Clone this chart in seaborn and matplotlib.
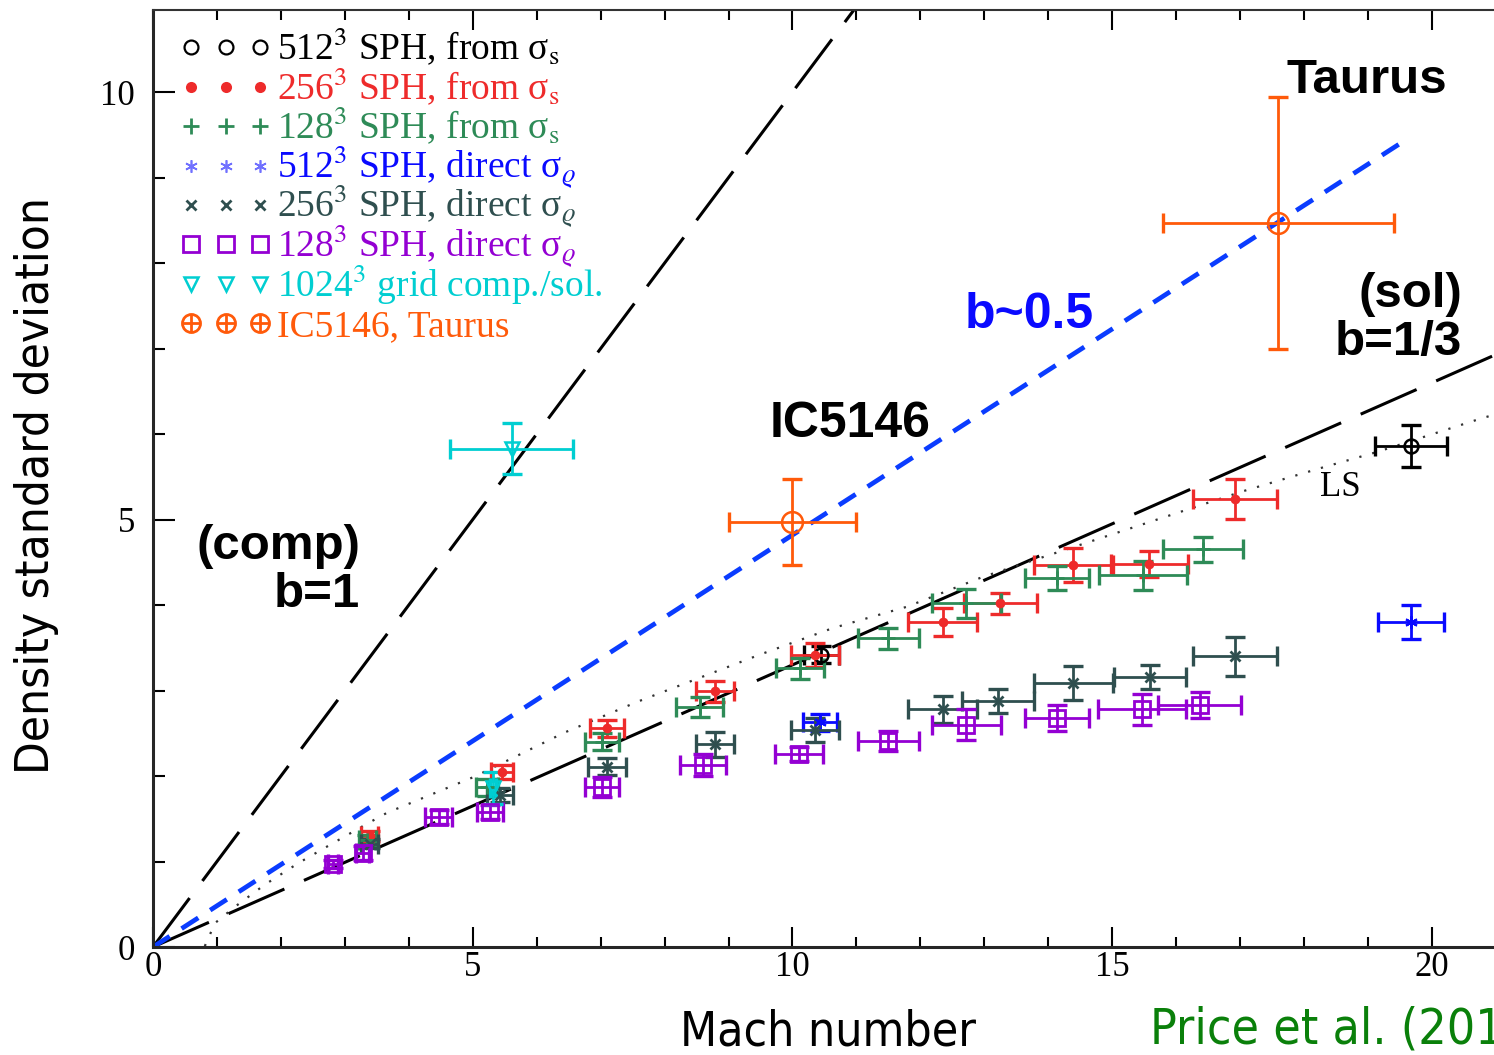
import numpy as np
import pandas as pd
import matplotlib
matplotlib.use("Agg")
import matplotlib.pyplot as plt
import seaborn as sns
from matplotlib.lines import Line2D
from matplotlib.legend_handler import HandlerTuple
from matplotlib.ticker import MultipleLocator
from matplotlib.transforms import Bbox
from matplotlib import font_manager as fm

# ---------------- data ----------------
# 512^3 SPH, from sigma_s
s512_M = [10.45, 19.67]
s512_sig = [3.42, 5.86]
s512_xerr = [0.27, 0.56]
s512_yerr = [0.10, 0.25]

# 256^3 SPH, from sigma_s
s256_M = [3.39, 5.46, 7.10, 8.79, 10.35, 12.35, 13.25, 14.39, 15.58, 16.92]
s256_sig = [1.30, 2.05, 2.56, 2.99, 3.42, 3.80, 4.02, 4.47, 4.48, 5.24]
s256_xerr = [0.13, 0.17, 0.27, 0.30, 0.38, 0.54, 0.57, 0.62, 0.60, 0.66]
s256_yerr = [0.06, 0.08, 0.10, 0.12, 0.14, 0.16, 0.12, 0.20, 0.15, 0.23]

# 128^3 SPH, from sigma_s
s128_M = [3.35, 5.22, 7.02, 8.55, 10.12, 11.50, 12.72, 14.14, 15.48, 16.42]
s128_sig = [1.25, 1.87, 2.40, 2.81, 3.26, 3.61, 4.02, 4.32, 4.35, 4.65]
s128_xerr = [0.13, 0.17, 0.26, 0.37, 0.38, 0.48, 0.54, 0.50, 0.69, 0.63]
s128_yerr = [0.06, 0.10, 0.10, 0.12, 0.12, 0.12, 0.17, 0.14, 0.17, 0.15]

# 512^3 SPH, direct sigma_rho
d512_M = [10.43, 19.67]
d512_sig = [2.63, 3.80]
d512_xerr = [0.26, 0.52]
d512_yerr = [0.10, 0.20]

# 256^3 SPH, direct sigma_rho
d256_M = [3.39, 5.43, 7.10, 8.79, 10.35, 12.35, 13.21, 14.39, 15.59, 16.92]
d256_sig = [1.21, 1.78, 2.11, 2.37, 2.54, 2.78, 2.88, 3.09, 3.16, 3.40]
d256_xerr = [0.13, 0.20, 0.30, 0.30, 0.38, 0.54, 0.56, 0.62, 0.57, 0.66]
d256_yerr = [0.05, 0.08, 0.10, 0.15, 0.14, 0.16, 0.14, 0.20, 0.14, 0.23]

# 128^3 SPH, direct sigma_rho
d128_M = [2.81, 3.28, 4.47, 5.27, 7.02, 8.60, 10.10, 11.50, 12.72, 14.14, 15.46, 16.37]
d128_sig = [0.97, 1.10, 1.52, 1.58, 1.87, 2.13, 2.26, 2.41, 2.60, 2.68, 2.78, 2.83]
d128_xerr = [0.08, 0.10, 0.21, 0.21, 0.26, 0.36, 0.37, 0.48, 0.54, 0.50, 0.69, 0.65]
d128_yerr = [0.05, 0.08, 0.08, 0.08, 0.12, 0.13, 0.08, 0.12, 0.18, 0.15, 0.18, 0.15]

# 1024^3 grid comp./sol.
grid_M = [5.32, 5.61]
grid_sig = [1.86, 5.83]
grid_xerr = [0.05, 0.96]
grid_yerr = [0.19, 0.30]

# IC5146, Taurus
obs_M = [10.0, 17.6]
obs_sig = [4.97, 8.47]
obs_xerr = [1.0, 1.8]
obs_yerr = [0.5, 1.47]

# reference relations (end points / read points)
b1_M = [0.0, 12.0]
b1_sig = [0.0, 12.0]
bhalf_M = [0.0, 19.63]
bhalf_sig = [0.0, 9.46]
bthird_M = [0.0, 21.0]
bthird_sig = [0.0, 6.93]
ls_M = [0.81, 0.97, 1.28, 1.75, 2.27, 2.78, 3.32, 3.66, 5.02, 6.44, 7.58,
        9.49, 10.63, 11.79, 12.98, 15.54, 17.04, 18.25, 19.14, 20.80, 21.0]
ls_sig = [0.01, 0.28, 0.47, 0.73, 0.98, 1.20, 1.43, 1.57, 1.99, 2.51, 2.87,
          3.42, 3.73, 3.98, 4.33, 4.96, 5.33, 5.60, 5.79, 6.19, 6.23]

labels = [r"512$^3$ SPH, from σ$_\mathrm{s}$",
          r"256$^3$ SPH, from σ$_\mathrm{s}$",
          r"128$^3$ SPH, from σ$_\mathrm{s}$",
          r"512$^3$ SPH, direct σ$_\varrho$",
          r"256$^3$ SPH, direct σ$_\varrho$",
          r"128$^3$ SPH, direct σ$_\varrho$",
          r"1024$^3$ grid comp./sol.",
          "IC5146, Taurus"]
colors = ["#000000", "#ee2b2b", "#2e8b57", "#0a0aff", "#2f4f4f", "#9400d3",
          "#00ced1", "#ff5a0a"]

# ---------------- style ----------------
sns.set_theme(style="ticks")
plt.rcParams['font.family'] = ['Liberation Serif', 'DejaVu Serif']
plt.rcParams['mathtext.fontset'] = 'stix'
for k in ["text.color", "axes.labelcolor", "xtick.color", "ytick.color"]:
    plt.rcParams[k] = "black"

# pick a condensed sans for the axis labels if one is installed
narrow_fp = None
cands = []
for f in fm.fontManager.ttflist:
    low = (f.fname + " " + f.name).lower()
    if ("narrow" in low or "condensed" in low) and f.style == "normal" \
            and f.weight in (400, "normal", "regular") and "bold" not in low:
        cands.append(f)
for pref in ["liberation sans narrow", "dejavu", "roboto", "open", ""]:
    hit = [f for f in cands if pref in (f.fname + " " + f.name).lower()]
    if hit:
        narrow_fp = fm.FontProperties(fname=hit[0].fname)
        break
if narrow_fp is None:
    narrow_fp = fm.FontProperties(family=["Liberation Sans", "DejaVu Sans"])

fig = plt.figure(figsize=(14.94, 10.55), dpi=100)
ax = fig.add_axes([153 / 1494, 108 / 1055, 1341 / 1494, 937 / 1055])
ax.set_xlim(0, 20.97)
ax.set_ylim(0, 10.96)

# reference lines via seaborn
sns.lineplot(x=b1_M, y=b1_sig, ax=ax, color="black", linewidth=2.2,
             linestyle=(0, (20, 7)), zorder=1)
sns.lineplot(x=bthird_M, y=bthird_sig, ax=ax, color="black", linewidth=2.2,
             linestyle=(0, (20, 7)), zorder=1)
sns.lineplot(x=bhalf_M, y=bhalf_sig, ax=ax, color="#0a3cff", linewidth=3.4,
             linestyle=(0, (4.2, 3.0)), zorder=1)
sns.lineplot(x=ls_M, y=ls_sig, ax=ax, color="#333333", linewidth=1.6,
             linestyle=(0, (1, 5)), zorder=1)

series = [
    (s512_M, s512_sig, s512_xerr, s512_yerr, dict(marker="o", ms=10, mfc="none", mew=1.8)),
    (s256_M, s256_sig, s256_xerr, s256_yerr, dict(marker="o", ms=7, mew=0)),
    (s128_M, s128_sig, s128_xerr, s128_yerr, dict(marker="+", ms=10, mew=2)),
    (d512_M, d512_sig, d512_xerr, d512_yerr, dict(marker=(6, 2, 0), ms=9, mew=1.5)),
    (d256_M, d256_sig, d256_xerr, d256_yerr, dict(marker="x", ms=7, mew=2)),
    (d128_M, d128_sig, d128_xerr, d128_yerr, dict(marker="s", ms=11, mfc="none", mew=2)),
    (grid_M, grid_sig, grid_xerr, grid_yerr, dict(marker="v", ms=10, mfc="none", mew=1.8)),
    (obs_M, obs_sig, obs_xerr, obs_yerr, dict(marker="o", ms=15, mfc="none", mew=1.8)),
]
for (M, s, xe, ye, mk), c in zip(series, colors):
    ax.errorbar(M, s, xerr=xe, yerr=ye, fmt="none", ecolor=c, elinewidth=2.0,
                capsize=7.5, capthick=2.4, zorder=3)
    ax.plot(M, s, linestyle="none", color=c, mec=c, zorder=4, **mk)

# legend
leg_mk = [
    dict(marker="o", ms=10, mfc="none", mew=1.6),
    dict(marker="o", ms=8, mew=0),
    dict(marker="+", ms=11, mew=2),
    dict(marker=(6, 2, 0), ms=9, mew=1.2),
    dict(marker="x", ms=7, mew=2),
    dict(marker="s", ms=11, mfc="none", mew=2),
    dict(marker="v", ms=10, mfc="none", mew=1.8),
]
leg_col = ["#000000", "#ee2b2b", "#2e8b57", "#7070ff", "#2f4f4f", "#9400d3",
           "#00ced1"]
handles = [Line2D([], [], linestyle="none", color=c, mec=c, **m)
           for m, c in zip(leg_mk, leg_col)]
handles.append((Line2D([], [], linestyle="none", marker="o", ms=13, mfc="none",
                       mec=colors[7], mew=2),
                Line2D([], [], linestyle="none", marker="+", ms=13,
                       color=colors[7], mew=2)))
leg = ax.legend(handles, labels, loc="upper left", bbox_to_anchor=(0.020, 0.9786),
                borderaxespad=0, borderpad=0, frameon=False, fontsize=27,
                numpoints=3, handlelength=2.45, handletextpad=0.15,
                labelspacing=0.0, labelcolor=colors,
                handler_map={tuple: HandlerTuple(ndivide=1, pad=0)})

# give every legend row the same height (the subscript rho otherwise
# makes some rows taller than the others)
try:
    ROW_H, ROW_D = 39.4, 9.0
    column = leg._legend_handle_box.get_children()[0]
    for item in column.get_children():
        tbox = item.get_children()[1]
        orig = tbox.get_bbox

        def _fixed(renderer, _orig=orig):
            bb = _orig(renderer)
            return Bbox.from_bounds(bb.x0, -ROW_D, bb.width, ROW_H)
        tbox.get_bbox = _fixed
except Exception:
    pass

# annotations
sans = ['Liberation Sans', 'DejaVu Sans']
ax.text(3.24, 4.40, "(comp)\nb=1", ha="right", va="center", multialignment="right",
        fontsize=35.5, fontweight="bold", family=sans, linespacing=1.08)
ax.text(20.47, 7.35, "(sol)\nb=1/3", ha="right", va="center", multialignment="right",
        fontsize=35.5, fontweight="bold", family=sans, linespacing=1.08)
ax.text(18.98, 10.14, "Taurus", ha="center", va="center", fontsize=35.5,
        fontweight="bold", family=sans)
ax.text(10.90, 6.12, "IC5146", ha="center", va="center", fontsize=36,
        fontweight="bold", family=sans)
ax.text(13.70, 7.39, "b~0.5", ha="center", va="center", fontsize=36,
        fontweight="bold", family=sans, color="#0a0aff")
ax.text(18.56, 5.37, "LS", ha="center", va="center", fontsize=25)

# axis labels in a condensed sans, sized to the reference widths
xl = ax.set_xlabel("Mach number", fontproperties=narrow_fp, va="baseline")
yl = ax.set_ylabel("Density standard deviation", fontproperties=narrow_fp,
                   va="center")
xl.set_fontsize(40)
yl.set_fontsize(40)
cite = fig.text(1150 / 1494, 12 / 1055, "Price et al. (2011)",
                fontproperties=narrow_fp, color="#0a800a", va="baseline",
                ha="left")
cite.set_fontsize(40)
fig.canvas.draw()
rend = fig.canvas.get_renderer()
wx = xl.get_window_extent(rend).width
fx = 40 * 296.0 / wx
xl.set_fontsize(fx)
cite.set_fontsize(fx * 1.04)
hy = yl.get_window_extent(rend).height
yl.set_fontsize(40 * 575.0 / hy)
ax.xaxis.set_label_coords((828 - 153) / 1341, (947 - 1045) / 937)
ax.yaxis.set_label_coords((37 - 153) / 1341, 0.493)

ax.xaxis.set_major_locator(MultipleLocator(5))
ax.xaxis.set_minor_locator(MultipleLocator(1))
ax.yaxis.set_major_locator(MultipleLocator(5))
ax.yaxis.set_minor_locator(MultipleLocator(1))
ax.tick_params(which="both", direction="in", top=True, right=False,
               labelsize=25, colors="black")
ax.tick_params(axis="x", which="major", length=14.4, width=1.5, pad=3)
ax.tick_params(axis="x", which="minor", length=7.2, width=1.5)
ax.tick_params(axis="y", which="major", length=15.5, width=1.5, pad=13)
ax.tick_params(axis="y", which="minor", length=8.5, width=1.5)
for sp in ["left", "bottom"]:
    ax.spines[sp].set_linewidth(2.2)
ax.spines["top"].set_linewidth(1.5)
ax.spines["top"].set_color("#333333")
ax.spines["right"].set_visible(False)

fig.savefig("out.png", dpi=100)
